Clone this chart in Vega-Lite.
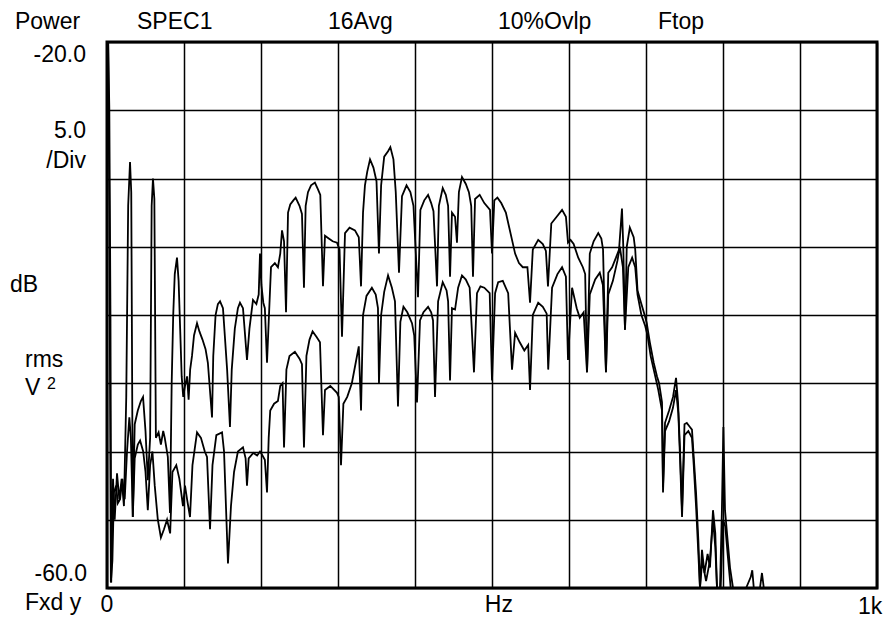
{
  "$schema": "https://vega.github.io/schema/vega-lite/v6.json",
  "width": 770,
  "height": 546,
  "autosize": {"type": "none"},
  "padding": {"left": 107, "top": 42, "right": 11, "bottom": 34},
  "background": "white",
  "config": {
    "view": {"stroke": "black", "strokeWidth": 3},
    "text": {"font": "Liberation Sans", "fontSize": 23, "color": "black"},
    "axis": {"grid": true, "gridColor": "black", "gridOpacity": 1, "gridWidth": 1.5, "labels": false, "ticks": false, "domain": false, "title": null}
  },
  "datasets": {
    "spec": [
      {"trace":"A","f":0,"db":-20},{"trace":"A","f":1.5,"db":-20},{"trace":"A","f":3,"db":-24.8},{"trace":"A","f":4.5,"db":-40},{"trace":"A","f":5.5,"db":-59.6},{"trace":"A","f":7.8,"db":-52},{"trace":"A","f":10,"db":-55},{"trace":"A","f":13,"db":-51.6},{"trace":"A","f":16,"db":-53.5},{"trace":"A","f":19,"db":-52},{"trace":"A","f":22,"db":-54},{"trace":"A","f":25,"db":-46},{"trace":"A","f":27.5,"db":-32},{"trace":"A","f":29.9,"db":-28.8},{"trace":"A","f":31.5,"db":-31},{"trace":"A","f":33.5,"db":-54.8},{"trace":"A","f":36,"db":-48},{"trace":"A","f":40,"db":-47},{"trace":"A","f":44,"db":-46.3},{"trace":"A","f":46.8,"db":-46},{"trace":"A","f":50,"db":-48.5},{"trace":"A","f":53,"db":-52.1},{"trace":"A","f":56,"db":-49},{"trace":"A","f":58,"db":-32},{"trace":"A","f":59.7,"db":-30},{"trace":"A","f":61.5,"db":-31.5},{"trace":"A","f":63.5,"db":-49},{"trace":"A","f":67,"db":-48.6},{"trace":"A","f":70,"db":-49.5},{"trace":"A","f":73,"db":-48.5},{"trace":"A","f":75,"db":-49},{"trace":"A","f":79,"db":-50.4},{"trace":"A","f":81.8,"db":-54.5},{"trace":"A","f":84,"db":-45},{"trace":"A","f":86,"db":-40},{"trace":"A","f":88,"db":-37},{"trace":"A","f":90.9,"db":-35.8},{"trace":"A","f":93,"db":-37.5},{"trace":"A","f":95,"db":-41},{"trace":"A","f":97,"db":-44.5},{"trace":"A","f":99,"db":-46},{"trace":"A","f":101.3,"db":-45.2},{"trace":"A","f":104,"db":-44.5},{"trace":"A","f":106,"db":-46.2},{"trace":"A","f":108,"db":-44},{"trace":"A","f":110.4,"db":-43},{"trace":"A","f":113,"db":-41.5},{"trace":"A","f":116.9,"db":-40.6},{"trace":"A","f":120,"db":-41.2},{"trace":"A","f":124,"db":-41.8},{"trace":"A","f":128,"db":-42.5},{"trace":"A","f":131,"db":-43.5},{"trace":"A","f":136.4,"db":-47.5},{"trace":"A","f":138,"db":-43},{"trace":"A","f":141,"db":-40},{"trace":"A","f":144,"db":-39.2},{"trace":"A","f":146.8,"db":-39},{"trace":"A","f":150.6,"db":-39.5},{"trace":"A","f":153,"db":-41.5},{"trace":"A","f":156,"db":-44},{"trace":"A","f":159.7,"db":-48.2},{"trace":"A","f":162,"db":-44},{"trace":"A","f":166,"db":-41},{"trace":"A","f":170,"db":-39.5},{"trace":"A","f":172.7,"db":-39.1},{"trace":"A","f":176.6,"db":-39.5},{"trace":"A","f":181.8,"db":-43.3},{"trace":"A","f":185,"db":-41},{"trace":"A","f":189.6,"db":-38.9},{"trace":"A","f":194,"db":-39.2},{"trace":"A","f":197,"db":-38.5},{"trace":"A","f":198.7,"db":-35.5},{"trace":"A","f":200.5,"db":-37.8},{"trace":"A","f":203,"db":-39.1},{"trace":"A","f":205,"db":-39.5},{"trace":"A","f":207.8,"db":-43.5},{"trace":"A","f":210,"db":-40.5},{"trace":"A","f":213,"db":-36.5},{"trace":"A","f":218,"db":-36.2},{"trace":"A","f":222,"db":-36.5},{"trace":"A","f":225,"db":-35.5},{"trace":"A","f":227.3,"db":-33.8},{"trace":"A","f":229.9,"db":-34.6},{"trace":"A","f":232.5,"db":-39.8},{"trace":"A","f":235.1,"db":-32.5},{"trace":"A","f":238,"db":-31.9},{"trace":"A","f":242,"db":-31.6},{"trace":"A","f":245,"db":-31.4},{"trace":"A","f":250,"db":-32},{"trace":"A","f":253.2,"db":-32.6},{"trace":"A","f":255.8,"db":-38},{"trace":"A","f":258,"db":-32},{"trace":"A","f":261,"db":-31},{"trace":"A","f":265,"db":-30.5},{"trace":"A","f":270,"db":-30.3},{"trace":"A","f":274,"db":-30.8},{"trace":"A","f":277,"db":-31.2},{"trace":"A","f":280.5,"db":-37.9},{"trace":"A","f":283.1,"db":-34.2},{"trace":"A","f":288,"db":-34.4},{"trace":"A","f":293,"db":-34.6},{"trace":"A","f":298.7,"db":-34.7},{"trace":"A","f":302,"db":-35.2},{"trace":"A","f":305.2,"db":-41.6},{"trace":"A","f":309.1,"db":-34},{"trace":"A","f":315,"db":-33.6},{"trace":"A","f":322,"db":-33.8},{"trace":"A","f":327,"db":-34.3},{"trace":"A","f":329.9,"db":-37.9},{"trace":"A","f":332.5,"db":-32.5},{"trace":"A","f":335,"db":-30.5},{"trace":"A","f":338,"db":-29.5},{"trace":"A","f":341.6,"db":-28.6},{"trace":"A","f":346,"db":-29.2},{"trace":"A","f":350,"db":-30.2},{"trace":"A","f":353.2,"db":-35.5},{"trace":"A","f":356,"db":-30.5},{"trace":"A","f":360,"db":-28.4},{"trace":"A","f":365,"db":-28},{"trace":"A","f":368,"db":-27.7},{"trace":"A","f":372,"db":-28.6},{"trace":"A","f":375,"db":-31},{"trace":"A","f":379.2,"db":-36.9},{"trace":"A","f":383.1,"db":-31.3},{"trace":"A","f":389,"db":-30.5},{"trace":"A","f":394,"db":-31},{"trace":"A","f":398,"db":-32},{"trace":"A","f":403.9,"db":-38.7},{"trace":"A","f":407,"db":-32.3},{"trace":"A","f":412,"db":-31.6},{"trace":"A","f":417,"db":-31.2},{"trace":"A","f":421,"db":-31.8},{"trace":"A","f":424,"db":-32.4},{"trace":"A","f":428.6,"db":-37.9},{"trace":"A","f":431,"db":-32},{"trace":"A","f":436,"db":-30.7},{"trace":"A","f":440,"db":-31.2},{"trace":"A","f":443,"db":-32},{"trace":"A","f":445.5,"db":-37.2},{"trace":"A","f":448,"db":-32.5},{"trace":"A","f":452,"db":-32.8},{"trace":"A","f":454.5,"db":-34.7},{"trace":"A","f":457,"db":-31},{"trace":"A","f":461,"db":-29.9},{"trace":"A","f":466,"db":-30.4},{"trace":"A","f":470,"db":-31},{"trace":"A","f":473,"db":-32},{"trace":"A","f":475.3,"db":-37.2},{"trace":"A","f":478,"db":-31.5},{"trace":"A","f":484,"db":-31.2},{"trace":"A","f":490,"db":-31.8},{"trace":"A","f":497.4,"db":-32.3},{"trace":"A","f":500,"db":-35.5},{"trace":"A","f":503,"db":-31.6},{"trace":"A","f":507,"db":-31.4},{"trace":"A","f":512,"db":-31.8},{"trace":"A","f":518,"db":-32.5},{"trace":"A","f":522,"db":-33.5},{"trace":"A","f":526,"db":-34.5},{"trace":"A","f":530,"db":-35.5},{"trace":"A","f":535,"db":-36.2},{"trace":"A","f":540,"db":-36.5},{"trace":"A","f":546,"db":-36.5},{"trace":"A","f":549.4,"db":-39.1},{"trace":"A","f":553,"db":-35.2},{"trace":"A","f":560,"db":-34.5},{"trace":"A","f":566,"db":-34.8},{"trace":"A","f":570,"db":-35.3},{"trace":"A","f":572.7,"db":-37.9},{"trace":"A","f":577,"db":-33.3},{"trace":"A","f":584,"db":-32.8},{"trace":"A","f":591,"db":-32.3},{"trace":"A","f":596,"db":-32.8},{"trace":"A","f":598.7,"db":-34.7},{"trace":"A","f":602,"db":-34.5},{"trace":"A","f":606,"db":-34.8},{"trace":"A","f":612,"db":-35.8},{"trace":"A","f":618,"db":-36.5},{"trace":"A","f":621,"db":-37},{"trace":"A","f":623.4,"db":-44.2},{"trace":"A","f":627,"db":-35.5},{"trace":"A","f":632,"db":-34.6},{"trace":"A","f":638,"db":-34},{"trace":"A","f":642,"db":-34.4},{"trace":"A","f":644.2,"db":-35.2},{"trace":"A","f":648,"db":-44.2},{"trace":"A","f":651,"db":-36.9},{"trace":"A","f":656,"db":-36.5},{"trace":"A","f":661,"db":-35.8},{"trace":"A","f":665,"db":-35.2},{"trace":"A","f":668.8,"db":-32.2},{"trace":"A","f":670.5,"db":-35},{"trace":"A","f":672.7,"db":-41.1},{"trace":"A","f":675,"db":-35},{"trace":"A","f":679,"db":-33.6},{"trace":"A","f":684,"db":-34.3},{"trace":"A","f":686,"db":-35.2},{"trace":"A","f":689,"db":-38.2},{"trace":"A","f":694,"db":-39.2},{"trace":"A","f":698.7,"db":-40.1},{"trace":"A","f":701,"db":-40.6},{"trace":"A","f":705,"db":-42},{"trace":"A","f":710,"db":-43.5},{"trace":"A","f":714.3,"db":-44.5},{"trace":"A","f":717,"db":-45},{"trace":"A","f":720.8,"db":-46.4},{"trace":"A","f":722.1,"db":-52.6},{"trace":"A","f":724.7,"db":-47.9},{"trace":"A","f":730,"db":-47},{"trace":"A","f":735.1,"db":-46},{"trace":"A","f":739,"db":-44.6},{"trace":"A","f":741.6,"db":-46.4},{"trace":"A","f":744.2,"db":-49.9},{"trace":"A","f":746.8,"db":-54.3},{"trace":"A","f":750,"db":-48},{"trace":"A","f":753,"db":-47.9},{"trace":"A","f":757,"db":-48.2},{"trace":"A","f":759.7,"db":-48.4},{"trace":"A","f":762,"db":-50.4},{"trace":"A","f":765,"db":-53},{"trace":"A","f":768,"db":-56.5},{"trace":"A","f":770.1,"db":-60},{"trace":"A","f":772.7,"db":-57.2},{"trace":"A","f":776,"db":-58.9},{"trace":"A","f":780,"db":-57.5},{"trace":"A","f":783.1,"db":-58.5},{"trace":"A","f":787,"db":-54.3},{"trace":"A","f":790,"db":-56},{"trace":"A","f":792.2,"db":-60},{"trace":"A","f":796.1,"db":-60},{"trace":"A","f":798.5,"db":-54.5},{"trace":"A","f":800.5,"db":-48.2},{"trace":"A","f":802.6,"db":-54.3},{"trace":"A","f":805.2,"db":-56},{"trace":"A","f":809.1,"db":-58.5},{"trace":"A","f":813,"db":-60},{"trace":"A","f":830,"db":-60},{"trace":"A","f":836,"db":-59.2},{"trace":"A","f":838,"db":-58.7},{"trace":"A","f":840,"db":-60},{"trace":"A","f":848,"db":-60},{"trace":"A","f":850.6,"db":-58.9},{"trace":"A","f":853,"db":-60},{"trace":"A","f":1000,"db":-60},
      {"trace":"B","f":0,"db":-20},{"trace":"B","f":1.5,"db":-20},{"trace":"B","f":3,"db":-32},{"trace":"B","f":5,"db":-59.6},{"trace":"B","f":7,"db":-58},{"trace":"B","f":9,"db":-53},{"trace":"B","f":12,"db":-52.5},{"trace":"B","f":14,"db":-53.8},{"trace":"B","f":17,"db":-53.5},{"trace":"B","f":20,"db":-52},{"trace":"B","f":23,"db":-53.5},{"trace":"B","f":26,"db":-50},{"trace":"B","f":29,"db":-47.5},{"trace":"B","f":31,"db":-49},{"trace":"B","f":33.5,"db":-54.8},{"trace":"B","f":36,"db":-50.5},{"trace":"B","f":40,"db":-49.5},{"trace":"B","f":43,"db":-49.2},{"trace":"B","f":47,"db":-50},{"trace":"B","f":50,"db":-51.5},{"trace":"B","f":53,"db":-54.3},{"trace":"B","f":56,"db":-51},{"trace":"B","f":59,"db":-50},{"trace":"B","f":62,"db":-52.5},{"trace":"B","f":66,"db":-55},{"trace":"B","f":70,"db":-56.3},{"trace":"B","f":74,"db":-55.7},{"trace":"B","f":78,"db":-55},{"trace":"B","f":82,"db":-56},{"trace":"B","f":85,"db":-51.5},{"trace":"B","f":90,"db":-51},{"trace":"B","f":94,"db":-52},{"trace":"B","f":98.7,"db":-54},{"trace":"B","f":101.3,"db":-52.5},{"trace":"B","f":104,"db":-53.5},{"trace":"B","f":107.8,"db":-54.8},{"trace":"B","f":111,"db":-51},{"trace":"B","f":116.9,"db":-48.6},{"trace":"B","f":122,"db":-49},{"trace":"B","f":127,"db":-50},{"trace":"B","f":129.9,"db":-50.4},{"trace":"B","f":133.8,"db":-55.7},{"trace":"B","f":137,"db":-51},{"trace":"B","f":142,"db":-48.8},{"trace":"B","f":149.4,"db":-48.6},{"trace":"B","f":152,"db":-50},{"trace":"B","f":157.1,"db":-58.2},{"trace":"B","f":161,"db":-54},{"trace":"B","f":165,"db":-51.5},{"trace":"B","f":170,"db":-50},{"trace":"B","f":176.6,"db":-49.7},{"trace":"B","f":180,"db":-50.5},{"trace":"B","f":181.8,"db":-52.5},{"trace":"B","f":184,"db":-50.5},{"trace":"B","f":190,"db":-50.1},{"trace":"B","f":195,"db":-50.3},{"trace":"B","f":198.7,"db":-50},{"trace":"B","f":201,"db":-50.2},{"trace":"B","f":205,"db":-50.6},{"trace":"B","f":207.8,"db":-53},{"trace":"B","f":210,"db":-49},{"trace":"B","f":212,"db":-47},{"trace":"B","f":217,"db":-46.5},{"trace":"B","f":222,"db":-46.3},{"trace":"B","f":225,"db":-45.2},{"trace":"B","f":228,"db":-45},{"trace":"B","f":229.9,"db":-49.7},{"trace":"B","f":233,"db":-44},{"trace":"B","f":237,"db":-43},{"trace":"B","f":244,"db":-42.7},{"trace":"B","f":250,"db":-43.2},{"trace":"B","f":253.2,"db":-43.6},{"trace":"B","f":255.8,"db":-49.7},{"trace":"B","f":259,"db":-43},{"trace":"B","f":263,"db":-41.8},{"trace":"B","f":267,"db":-41.2},{"trace":"B","f":272,"db":-41.6},{"trace":"B","f":276.6,"db":-42},{"trace":"B","f":280.5,"db":-48.8},{"trace":"B","f":283.1,"db":-45.5},{"trace":"B","f":290,"db":-45.2},{"trace":"B","f":298.7,"db":-45.7},{"trace":"B","f":301,"db":-46},{"trace":"B","f":303.9,"db":-51},{"trace":"B","f":307,"db":-46.5},{"trace":"B","f":312,"db":-46},{"trace":"B","f":318,"db":-45},{"trace":"B","f":323,"db":-43.5},{"trace":"B","f":327,"db":-42.3},{"trace":"B","f":329.9,"db":-47},{"trace":"B","f":332.5,"db":-40},{"trace":"B","f":337,"db":-38.6},{"trace":"B","f":344,"db":-38},{"trace":"B","f":349,"db":-38.5},{"trace":"B","f":351.9,"db":-39.5},{"trace":"B","f":353.2,"db":-45},{"trace":"B","f":356,"db":-40},{"trace":"B","f":360,"db":-38.3},{"trace":"B","f":365,"db":-37.1},{"trace":"B","f":370,"db":-38},{"trace":"B","f":374,"db":-39},{"trace":"B","f":377.9,"db":-46.7},{"trace":"B","f":381,"db":-40.5},{"trace":"B","f":385,"db":-39.4},{"trace":"B","f":390,"db":-39.8},{"trace":"B","f":396.1,"db":-40.6},{"trace":"B","f":399,"db":-41.5},{"trace":"B","f":402.6,"db":-46.4},{"trace":"B","f":406.5,"db":-40.4},{"trace":"B","f":411,"db":-39.8},{"trace":"B","f":417,"db":-39.4},{"trace":"B","f":421,"db":-39.8},{"trace":"B","f":423.4,"db":-40.4},{"trace":"B","f":426,"db":-46},{"trace":"B","f":430,"db":-39},{"trace":"B","f":436,"db":-37.6},{"trace":"B","f":441,"db":-38.2},{"trace":"B","f":443,"db":-39},{"trace":"B","f":445.5,"db":-44.8},{"trace":"B","f":448,"db":-39.5},{"trace":"B","f":452,"db":-39.6},{"trace":"B","f":456,"db":-38},{"trace":"B","f":461,"db":-37.1},{"trace":"B","f":466,"db":-37.4},{"trace":"B","f":471,"db":-38},{"trace":"B","f":476.6,"db":-44.2},{"trace":"B","f":480.5,"db":-38.4},{"trace":"B","f":485,"db":-37.9},{"trace":"B","f":490,"db":-38},{"trace":"B","f":497,"db":-38.4},{"trace":"B","f":500,"db":-44.8},{"trace":"B","f":504,"db":-38.4},{"trace":"B","f":508,"db":-37.6},{"trace":"B","f":514,"db":-37.5},{"trace":"B","f":521,"db":-38.4},{"trace":"B","f":526,"db":-44},{"trace":"B","f":530,"db":-41.3},{"trace":"B","f":536,"db":-42},{"trace":"B","f":542,"db":-42.6},{"trace":"B","f":547,"db":-42.2},{"trace":"B","f":549.4,"db":-45.5},{"trace":"B","f":553,"db":-40},{"trace":"B","f":560,"db":-39.1},{"trace":"B","f":566,"db":-39.4},{"trace":"B","f":571,"db":-39.9},{"trace":"B","f":573,"db":-44},{"trace":"B","f":578,"db":-38},{"trace":"B","f":585,"db":-37},{"trace":"B","f":591,"db":-36.5},{"trace":"B","f":596,"db":-37.2},{"trace":"B","f":598.7,"db":-43.3},{"trace":"B","f":604,"db":-38},{"trace":"B","f":610,"db":-39.5},{"trace":"B","f":614,"db":-40.2},{"trace":"B","f":619,"db":-39.8},{"trace":"B","f":623.4,"db":-44.2},{"trace":"B","f":627,"db":-38.5},{"trace":"B","f":634,"db":-37.4},{"trace":"B","f":640,"db":-36.9},{"trace":"B","f":644,"db":-37.8},{"trace":"B","f":648,"db":-44.2},{"trace":"B","f":651,"db":-38.5},{"trace":"B","f":657,"db":-37.5},{"trace":"B","f":663,"db":-36},{"trace":"B","f":666,"db":-35},{"trace":"B","f":670,"db":-36.5},{"trace":"B","f":672.7,"db":-41},{"trace":"B","f":677,"db":-36.5},{"trace":"B","f":682,"db":-35.8},{"trace":"B","f":686,"db":-36.5},{"trace":"B","f":689,"db":-38.5},{"trace":"B","f":694,"db":-40},{"trace":"B","f":699,"db":-40.8},{"trace":"B","f":702,"db":-41.5},{"trace":"B","f":706,"db":-43},{"trace":"B","f":712,"db":-44.5},{"trace":"B","f":716,"db":-45.5},{"trace":"B","f":720.8,"db":-47},{"trace":"B","f":722.1,"db":-53},{"trace":"B","f":724.7,"db":-48.5},{"trace":"B","f":730,"db":-47.8},{"trace":"B","f":735,"db":-46.8},{"trace":"B","f":739,"db":-45.5},{"trace":"B","f":742,"db":-47.2},{"trace":"B","f":744.2,"db":-50.5},{"trace":"B","f":746.8,"db":-54.8},{"trace":"B","f":750,"db":-48.8},{"trace":"B","f":755,"db":-48.5},{"trace":"B","f":759.7,"db":-49},{"trace":"B","f":762,"db":-51},{"trace":"B","f":765,"db":-54},{"trace":"B","f":768,"db":-57.5},{"trace":"B","f":770.1,"db":-60},{"trace":"B","f":773,"db":-58},{"trace":"B","f":778,"db":-59.5},{"trace":"B","f":783,"db":-58},{"trace":"B","f":787,"db":-55},{"trace":"B","f":790,"db":-57},{"trace":"B","f":792.2,"db":-60},{"trace":"B","f":797,"db":-60},{"trace":"B","f":800,"db":-55},{"trace":"B","f":803,"db":-55.5},{"trace":"B","f":806,"db":-57.5},{"trace":"B","f":810,"db":-60},{"trace":"B","f":1000,"db":-60}
    ],
    "leftText": [
      {"label":"Power","f":-119.5,"db":-19.05},
      {"label":"SPEC1","f":39,"db":-19.05},
      {"label":"16Avg","f":287,"db":-19.05},
      {"label":"10%Ovlp","f":507.8,"db":-19.05},
      {"label":"Ftop","f":715.6,"db":-19.05},
      {"label":"dB","f":-126,"db":-38.3},
      {"label":"rms","f":-106.5,"db":-43.8},
      {"label":"V","f":-106.5,"db":-45.85},
      {"label":"Fxd y","f":-106.5,"db":-61.6}
    ],
    "rightText": [
      {"label":"-20.0","f":-27.3,"db":-21.47},
      {"label":"5.0","f":-27.3,"db":-27.03},
      {"label":"/Div","f":-27.3,"db":-29.23},
      {"label":"-60.0","f":-26,"db":-59.49}
    ],
    "centerText": [
      {"label":"0","f":0,"db":-61.76},
      {"label":"Hz","f":509,"db":-61.76},
      {"label":"1k","f":991,"db":-61.9}
    ],
    "superText": [
      {"label":"2","f":-77.9,"db":-45.45}
    ]
  },
  "layer": [
    {
      "data": {"name": "spec"},
      "mark": {"type": "line", "color": "black", "strokeWidth": 1.8, "clip": true},
      "encoding": {
        "x": {"field": "f", "type": "quantitative",
              "scale": {"domain": [0, 1000], "nice": false, "zero": false},
              "axis": {"values": [0,100,200,300,400,500,600,700,800,900,1000]}},
        "y": {"field": "db", "type": "quantitative",
              "scale": {"domain": [-60, -20], "nice": false, "zero": false},
              "axis": {"values": [-60,-55,-50,-45,-40,-35,-30,-25,-20]}},
        "detail": {"field": "trace"}
      }
    },
    {
      "data": {"name": "leftText"},
      "mark": {"type": "text", "align": "left", "baseline": "alphabetic"},
      "encoding": {
        "x": {"field": "f", "type": "quantitative"},
        "y": {"field": "db", "type": "quantitative"},
        "text": {"field": "label"}
      }
    },
    {
      "data": {"name": "rightText"},
      "mark": {"type": "text", "align": "right", "baseline": "alphabetic"},
      "encoding": {
        "x": {"field": "f", "type": "quantitative"},
        "y": {"field": "db", "type": "quantitative"},
        "text": {"field": "label"}
      }
    },
    {
      "data": {"name": "centerText"},
      "mark": {"type": "text", "align": "center", "baseline": "alphabetic"},
      "encoding": {
        "x": {"field": "f", "type": "quantitative"},
        "y": {"field": "db", "type": "quantitative"},
        "text": {"field": "label"}
      }
    },
    {
      "data": {"name": "superText"},
      "mark": {"type": "text", "align": "left", "baseline": "alphabetic", "fontSize": 16},
      "encoding": {
        "x": {"field": "f", "type": "quantitative"},
        "y": {"field": "db", "type": "quantitative"},
        "text": {"field": "label"}
      }
    }
  ]
}
